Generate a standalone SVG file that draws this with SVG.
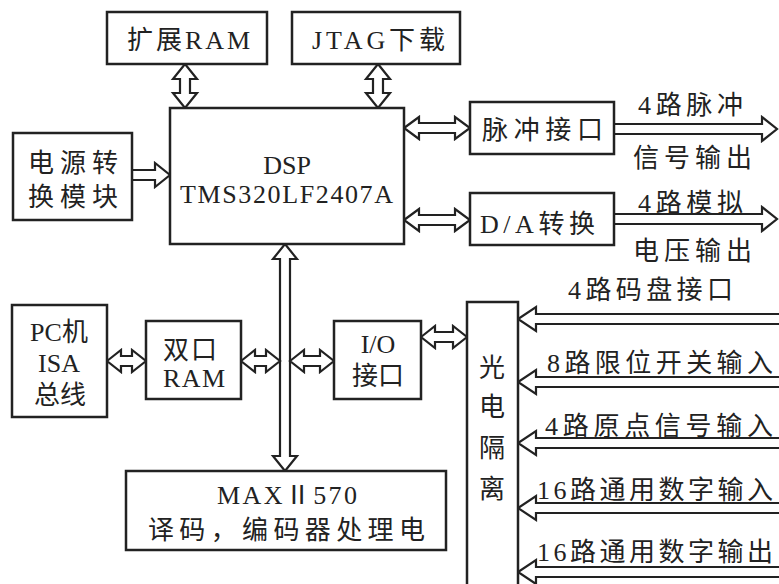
<svg xmlns="http://www.w3.org/2000/svg" width="779" height="584" viewBox="0 0 779 584">
<style>
.box{fill:#fff;stroke:#222;stroke-width:2.5}
.arr{fill:#fff;stroke:#222;stroke-width:2.2;stroke-linejoin:miter}
text{font-family:"Liberation Serif","Noto Sans CJK SC",serif;font-size:26px;fill:#222}
.c{text-anchor:middle}
</style>
<rect width="779" height="584" fill="#fff"/>
<g id="connectors">
<path class="arr" d="M185,64 L197,79 L190,79 L190,93 L197,93 L185,108 L173,93 L180,93 L180,79 L173,79 Z"/>
<path class="arr" d="M378,64 L390,79 L383,79 L383,93 L390,93 L378,108 L366,93 L373,93 L373,79 L366,79 Z"/>
<path class="arr" d="M132,170 L155,170 L155,163 L170,175 L155,187 L155,180 L132,180"/>
<path class="arr" d="M404,128 L419,117 L419,123 L455,123 L455,117 L470,128 L455,139 L455,133 L419,133 L419,139 Z"/>
<path class="arr" d="M404,220 L419,209 L419,215 L455,215 L455,209 L470,220 L455,231 L455,225 L419,225 L419,231 Z"/>
<path class="arr" d="M614,124 L762,124 L762,117 L777,129 L762,141 L762,134 L614,134"/>
<path class="arr" d="M614,214 L762,214 L762,207 L777,219 L762,231 L762,224 L614,224"/>
<path class="arr" d="M285,244 L297,259 L290,259 L290,456 L297,456 L285,471 L273,456 L280,456 L280,259 L273,259 Z"/>
<path class="arr" d="M107,361 L121,350 L121,356 L132,356 L132,350 L146,361 L132,372 L132,366 L121,366 L121,372 Z"/>
<path class="arr" d="M241,361 L255,350 L255,356 L266,356 L266,350 L280,361 L266,372 L266,366 L255,366 L255,372 Z"/>
<path class="arr" d="M290,361 L304,350 L304,356 L320,356 L320,350 L334,361 L320,372 L320,366 L304,366 L304,372 Z"/>
<path class="arr" d="M421,337 L435,326 L435,332 L453,332 L453,326 L467,337 L453,348 L453,342 L435,342 L435,348 Z"/>
<path class="arr" d="M781,314 L536,314 L536,307 L518,319 L536,331 L536,324 L781,324"/>
<path class="arr" d="M781,377 L536,377 L536,370 L518,382 L536,394 L536,387 L781,387"/>
<path class="arr" d="M781,438 L536,438 L536,431 L518,443 L536,455 L536,448 L781,448"/>
<path class="arr" d="M781,503 L536,503 L536,496 L518,508 L536,520 L536,513 L781,513"/>
<path class="arr" d="M781,567 L536,567 L536,560 L518,572 L536,584 L536,577 L781,577"/>
</g>
<g id="ext-ram"><rect class="box" x="107" y="12" width="160" height="52"/><text x="127" y="49" textLength="123" lengthAdjust="spacing">扩展RAM</text></g>
<g id="jtag"><rect class="box" x="292" y="12" width="168" height="52"/><text x="312" y="49" textLength="133" lengthAdjust="spacing">JTAG下载</text></g>
<g id="power"><rect class="box" x="13" y="133" width="119" height="87"/><text x="28" y="172" textLength="90" lengthAdjust="spacing">电源转</text><text x="28" y="206" textLength="90" lengthAdjust="spacing">换模块</text></g>
<g id="dsp"><rect class="box" x="170" y="108" width="234" height="136"/><text class="c" x="287" y="174">DSP</text><text x="180" y="203" textLength="213" lengthAdjust="spacing">TMS320LF2407A</text></g>
<g id="pulse"><rect class="box" x="470" y="102" width="144" height="52"/><text x="482" y="139" textLength="121" lengthAdjust="spacing">脉冲接口</text></g>
<g id="da"><rect class="box" x="470" y="193" width="144" height="52"/><text x="480" y="233" textLength="115" lengthAdjust="spacing">D/A转换</text></g>
<g id="pulse-out"><text x="638" y="114" textLength="105" lengthAdjust="spacing">4路脉冲</text><text x="633" y="167" textLength="119" lengthAdjust="spacing">信号输出</text></g>
<g id="analog-out"><text x="638" y="212" textLength="105" lengthAdjust="spacing">4路模拟</text><text x="633" y="260" textLength="119" lengthAdjust="spacing">电压输出</text></g>
<g id="pc"><rect class="box" x="12" y="305" width="95" height="112"/><text class="c" x="59" y="341">PC机</text><text class="c" x="59" y="372">ISA</text><text class="c" x="60" y="404">总线</text></g>
<g id="dpram"><rect class="box" x="146" y="321" width="95" height="78"/><text x="163" y="359" textLength="54" lengthAdjust="spacing">双口</text><text x="163" y="387" textLength="62" lengthAdjust="spacing">RAM</text></g>
<g id="io"><rect class="box" x="334" y="321" width="87" height="78"/><text class="c" x="378" y="353">I/O</text><text class="c" x="378" y="385">接口</text></g>
<g id="max"><rect class="box" x="126" y="471" width="320" height="79"/><text x="217" y="504" textLength="140" lengthAdjust="spacing">MAXⅡ570</text><text x="148" y="539" textLength="277" lengthAdjust="spacing">译码，编码器处理电</text></g>
<g id="opto"><rect class="box" x="467" y="302" width="51" height="292"/><text class="c" x="492" y="377">光</text><text class="c" x="492" y="416">电</text><text class="c" x="492" y="457">隔</text><text class="c" x="492" y="498">离</text></g>
<g id="inputs">
<text x="568" y="299" textLength="165" lengthAdjust="spacing">4路码盘接口</text>
<text x="547" y="372" textLength="226" lengthAdjust="spacing">8路限位开关输入</text>
<text x="545" y="435" textLength="228" lengthAdjust="spacing">4路原点信号输入</text>
<text x="537" y="499" textLength="236" lengthAdjust="spacing">16路通用数字输入</text>
<text x="537" y="561" textLength="236" lengthAdjust="spacing">16路通用数字输出</text>
</g>
</svg>
